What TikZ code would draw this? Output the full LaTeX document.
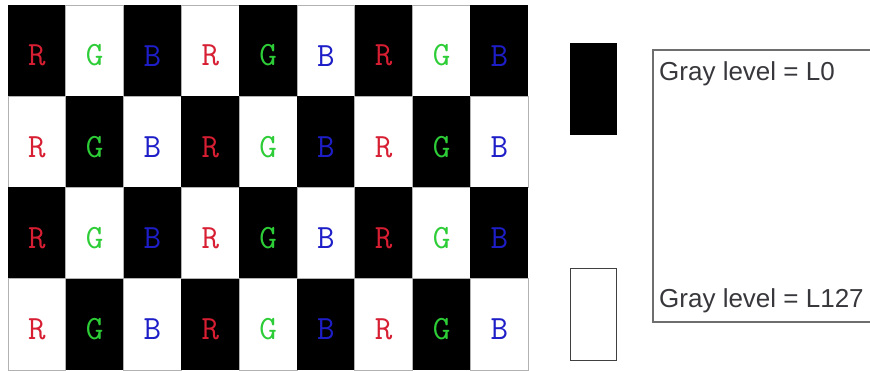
\documentclass[tikz,border=0pt]{standalone}
\usepackage{fontspec}
\newfontfamily\levelfont{Liberation Sans}
\definecolor{cellred}{RGB}{215,30,50}
\definecolor{cellgreen}{RGB}{45,205,55}
\definecolor{cellblue}{RGB}{30,30,200}
\definecolor{framegray}{RGB}{110,110,110}
\definecolor{textgray}{RGB}{55,55,60}
\begin{document}
\begin{tikzpicture}[x=1pt, y=-1pt,
		k/.style = {rectangle, fill=black, minimum width=57.8pt, minimum height=91.25pt, inner sep=0pt, text height=31pt, font=\fontsize{34}{34}\ttfamily},
		w/.style = {rectangle, fill=white, draw=black!30, line width=0.8pt, minimum width=57.8pt, minimum height=91.25pt, inner sep=0pt, text height=31pt, font=\fontsize{34}{34}\ttfamily},
		r/.style = {text=cellred},
		g/.style = {text=cellgreen},
		b/.style = {text=cellblue},
		lvl/.style = {anchor=base west, inner sep=0pt, text=textgray, font=\fontsize{26}{26}\levelfont}
		]
		\clip (0, 0) rectangle (870, 370);
		
		%Cells
		\node[k, r]	(c11)	at	(36.9, 50.6)	{R};
		\node[w, g]	(c21)	at	(94.7, 50.6)	{G};
		\node[k, b]	(c31)	at	(152.5, 50.6)	{B};
		\node[w, r]	(c41)	at	(210.3, 50.6)	{R};
		\node[k, g]	(c51)	at	(268.1, 50.6)	{G};
		\node[w, b]	(c61)	at	(325.9, 50.6)	{B};
		\node[k, r]	(c71)	at	(383.7, 50.6)	{R};
		\node[w, g]	(c81)	at	(441.5, 50.6)	{G};
		\node[k, b]	(c91)	at	(499.3, 50.6)	{B};
		
		\node[w, r]	(c12)	at	(36.9, 141.9)	{R};
		\node[k, g]	(c22)	at	(94.7, 141.9)	{G};
		\node[w, b]	(c32)	at	(152.5, 141.9)	{B};
		\node[k, r]	(c42)	at	(210.3, 141.9)	{R};
		\node[w, g]	(c52)	at	(268.1, 141.9)	{G};
		\node[k, b]	(c62)	at	(325.9, 141.9)	{B};
		\node[w, r]	(c72)	at	(383.7, 141.9)	{R};
		\node[k, g]	(c82)	at	(441.5, 141.9)	{G};
		\node[w, b]	(c92)	at	(499.3, 141.9)	{B};
		
		\node[k, r]	(c13)	at	(36.9, 233.1)	{R};
		\node[w, g]	(c23)	at	(94.7, 233.1)	{G};
		\node[k, b]	(c33)	at	(152.5, 233.1)	{B};
		\node[w, r]	(c43)	at	(210.3, 233.1)	{R};
		\node[k, g]	(c53)	at	(268.1, 233.1)	{G};
		\node[w, b]	(c63)	at	(325.9, 233.1)	{B};
		\node[k, r]	(c73)	at	(383.7, 233.1)	{R};
		\node[w, g]	(c83)	at	(441.5, 233.1)	{G};
		\node[k, b]	(c93)	at	(499.3, 233.1)	{B};
		
		\node[w, r]	(c14)	at	(36.9, 324.4)	{R};
		\node[k, g]	(c24)	at	(94.7, 324.4)	{G};
		\node[w, b]	(c34)	at	(152.5, 324.4)	{B};
		\node[k, r]	(c44)	at	(210.3, 324.4)	{R};
		\node[w, g]	(c54)	at	(268.1, 324.4)	{G};
		\node[k, b]	(c64)	at	(325.9, 324.4)	{B};
		\node[w, r]	(c74)	at	(383.7, 324.4)	{R};
		\node[k, g]	(c84)	at	(441.5, 324.4)	{G};
		\node[w, b]	(c94)	at	(499.3, 324.4)	{B};
		
		%Legend
		\node[rectangle, fill=black, minimum width=47pt, minimum height=92pt]	(dark)	at	(593.5, 89)	{};
		\node[rectangle, draw=black!75, line width=1.3pt, minimum width=46pt, minimum height=92pt]	(bright)	at	(593.5, 314.5)	{};
		\node[rectangle, draw=framegray, line width=1.5pt, minimum width=226pt, minimum height=272pt]	(scale)	at	(766, 186)	{};
		\node[lvl]	(l0)	at	(659, 80)	{Gray level = L0};
		\node[lvl]	(l127)	at	(659, 307)	{Gray level = L127};
	\end{tikzpicture}
\end{document}
